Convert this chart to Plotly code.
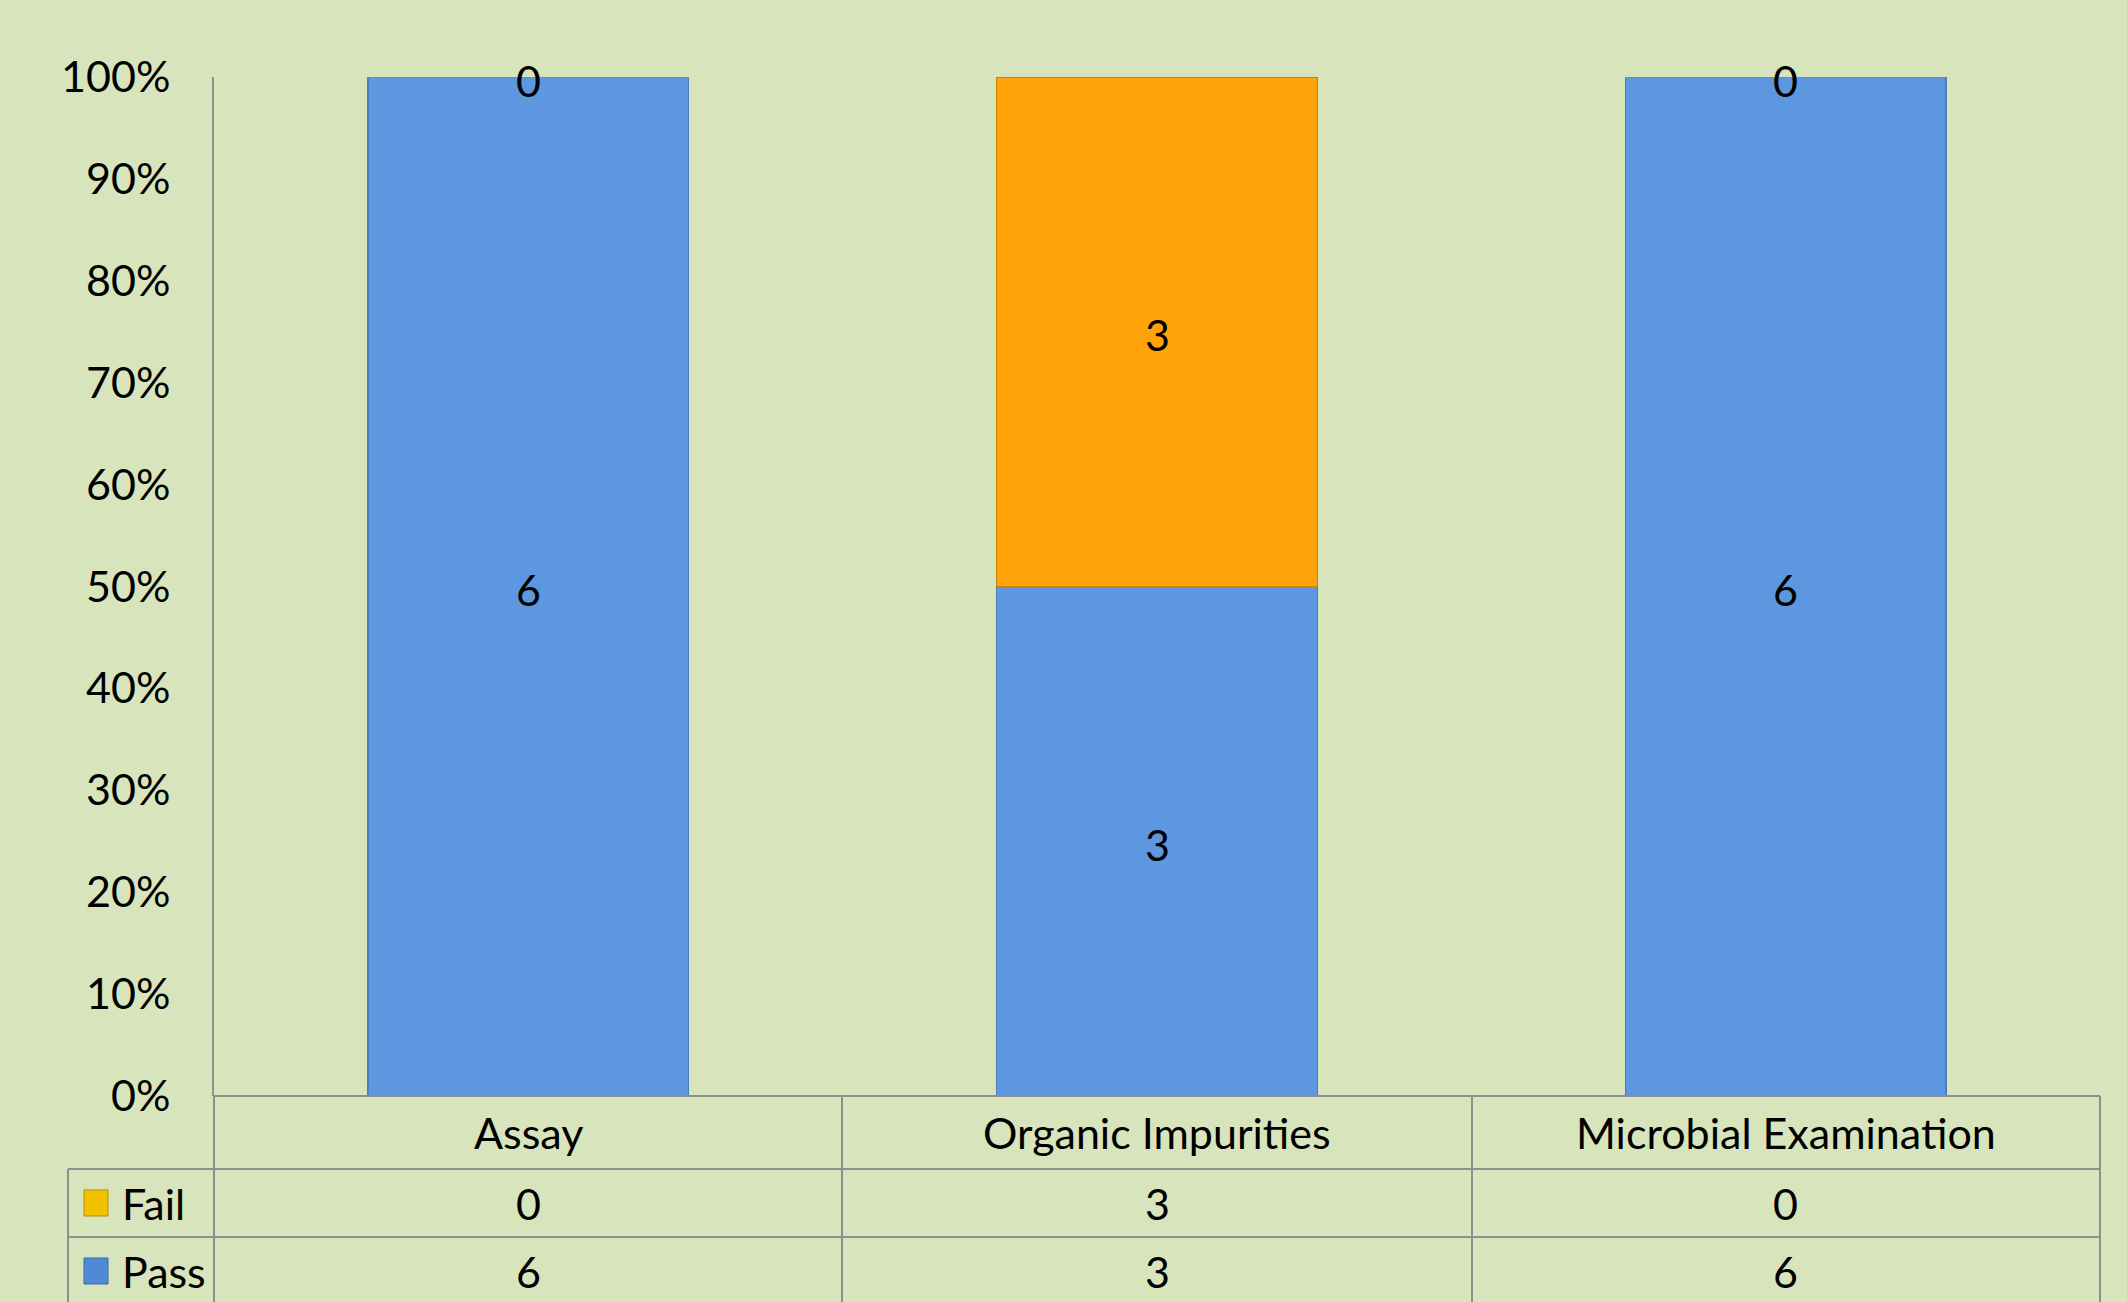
import plotly.graph_objects as go

categories = ["Assay", "Organic Impurities", "Microbial Examination"]
pass_vals = [6, 3, 6]
fail_vals = [0, 3, 0]
series_names = ["Fail", "Pass"]
y_ticks = [0, 10, 20, 30, 40, 50, 60, 70, 80, 90, 100]
y_tick_labels = [f"{v}%" for v in y_ticks]

BG = "#D8E4BC"
BLUE = "#5C97E0"
ORANGE = "#FFA308"
FAIL_KEY = "#F2C200"
GRID = "#8E8E8E"
FONT = "Lato"
FS = 43

W, H = 2127, 1302
L, R, T, B = 214, 27, 77, 206
plot_w = W - L - R
plot_h = H - T - B

def px_x(px):
    return (px - L) / plot_w

def px_y(py):
    return (H - B - py) / plot_h

fig = go.Figure()
fig.add_trace(go.Bar(x=categories, y=pass_vals, name="Pass", marker=dict(color=BLUE, line=dict(color="#4A7DBB", width=1.5)), showlegend=False, hoverinfo="skip"))
fig.add_trace(go.Bar(x=categories, y=fail_vals, name="Fail", marker=dict(color=ORANGE, line=dict(color="#C98200", width=1.5)), showlegend=False, hoverinfo="skip"))

annotations = []
# data labels at centre of each segment (percent of stack)
totals = [p + f for p, f in zip(pass_vals, fail_vals)]
pass_mid = [100 * p / 2 / t for p, t in zip(pass_vals, totals)]
fail_mid = [100 * (p + f / 2) / t for p, f, t in zip(pass_vals, fail_vals, totals)]
for c, v, ym in zip(categories + categories, pass_vals + fail_vals, pass_mid + fail_mid):
    annotations.append(dict(x=c, xref="x", y=ym, yref="y", text=str(v), showarrow=False,
                            xanchor="center", yanchor="middle", yshift=-3,
                            font=dict(family=FONT, size=FS, color="black")))

shapes = []
line = dict(color=GRID, width=2)
# table lines
row_edges_px = [1096, 1169, 1237]
col_edges_px = [214, 842, 1472, 2100]
bottom = px_y(1310)
for i, py in enumerate(row_edges_px):
    x0 = px_x(214) if i == 0 else px_x(68)
    shapes.append(dict(type="line", xref="paper", yref="paper", x0=x0, x1=px_x(2100), y0=px_y(py), y1=px_y(py), line=line))
for cx in col_edges_px:
    shapes.append(dict(type="line", xref="paper", yref="paper", x0=px_x(cx), x1=px_x(cx), y0=0, y1=bottom, line=line))
shapes.append(dict(type="line", xref="paper", yref="paper", x0=px_x(68), x1=px_x(68), y0=px_y(1169), y1=bottom, line=line))

row_cat = px_y((1096 + 1169) / 2)
row_fail = px_y((1169 + 1237) / 2)
row_pass = px_y((1237 + 1305) / 2)
for c, f, p in zip(categories, fail_vals, pass_vals):
    for txt, yy in [(c, row_cat), (str(f), row_fail), (str(p), row_pass)]:
        annotations.append(dict(x=c, xref="x", y=yy, yref="paper", text=txt, showarrow=False,
                                font=dict(family=FONT, size=FS, color="black"), xanchor="center", yanchor="middle"))

# legend keys inside the table
key_colors = {"Fail": FAIL_KEY, "Pass": "#4F8AD6"}
key_line = {"Fail": "#B38F00", "Pass": "#3A6BA8"}
for name, yy_top in [("Fail", 1190), ("Pass", 1258)]:
    shapes.append(dict(type="rect", xref="paper", yref="paper", x0=px_x(84), x1=px_x(108),
                       y0=px_y(yy_top), y1=px_y(yy_top + 26), fillcolor=key_colors[name],
                       line=dict(color=key_line[name], width=1)))
    annotations.append(dict(x=px_x(120), xref="paper", y=px_y(yy_top + 13), yref="paper", text=name,
                            showarrow=False, xanchor="left", yanchor="middle",
                            font=dict(family=FONT, size=FS, color="black")))

fig.update_layout(
    width=W, height=H,
    barmode="stack", barnorm="percent", bargap=0.49,
    paper_bgcolor=BG, plot_bgcolor=BG,
    margin=dict(l=L, r=R, t=T, b=B, autoexpand=False),
    shapes=shapes, annotations=annotations,
    xaxis=dict(type="category", range=[-0.5, 2.5], showticklabels=False, showgrid=False,
               zeroline=False, showline=False, ticks=""),
    yaxis=dict(range=[0, 100], tickvals=y_ticks, ticktext=y_tick_labels, showgrid=False,
               zeroline=False, showline=True, linecolor=GRID, linewidth=2, ticks="",
               ticklabelstandoff=33, tickfont=dict(family=FONT, size=FS, color="black")),
    font=dict(family=FONT, size=FS, color="black"),
)

fig.write_html("out.html", config={"displayModeBar": False},
               post_script="document.body.style.margin='0';document.body.style.overflow='hidden';document.body.style.background='" + BG + "';")
